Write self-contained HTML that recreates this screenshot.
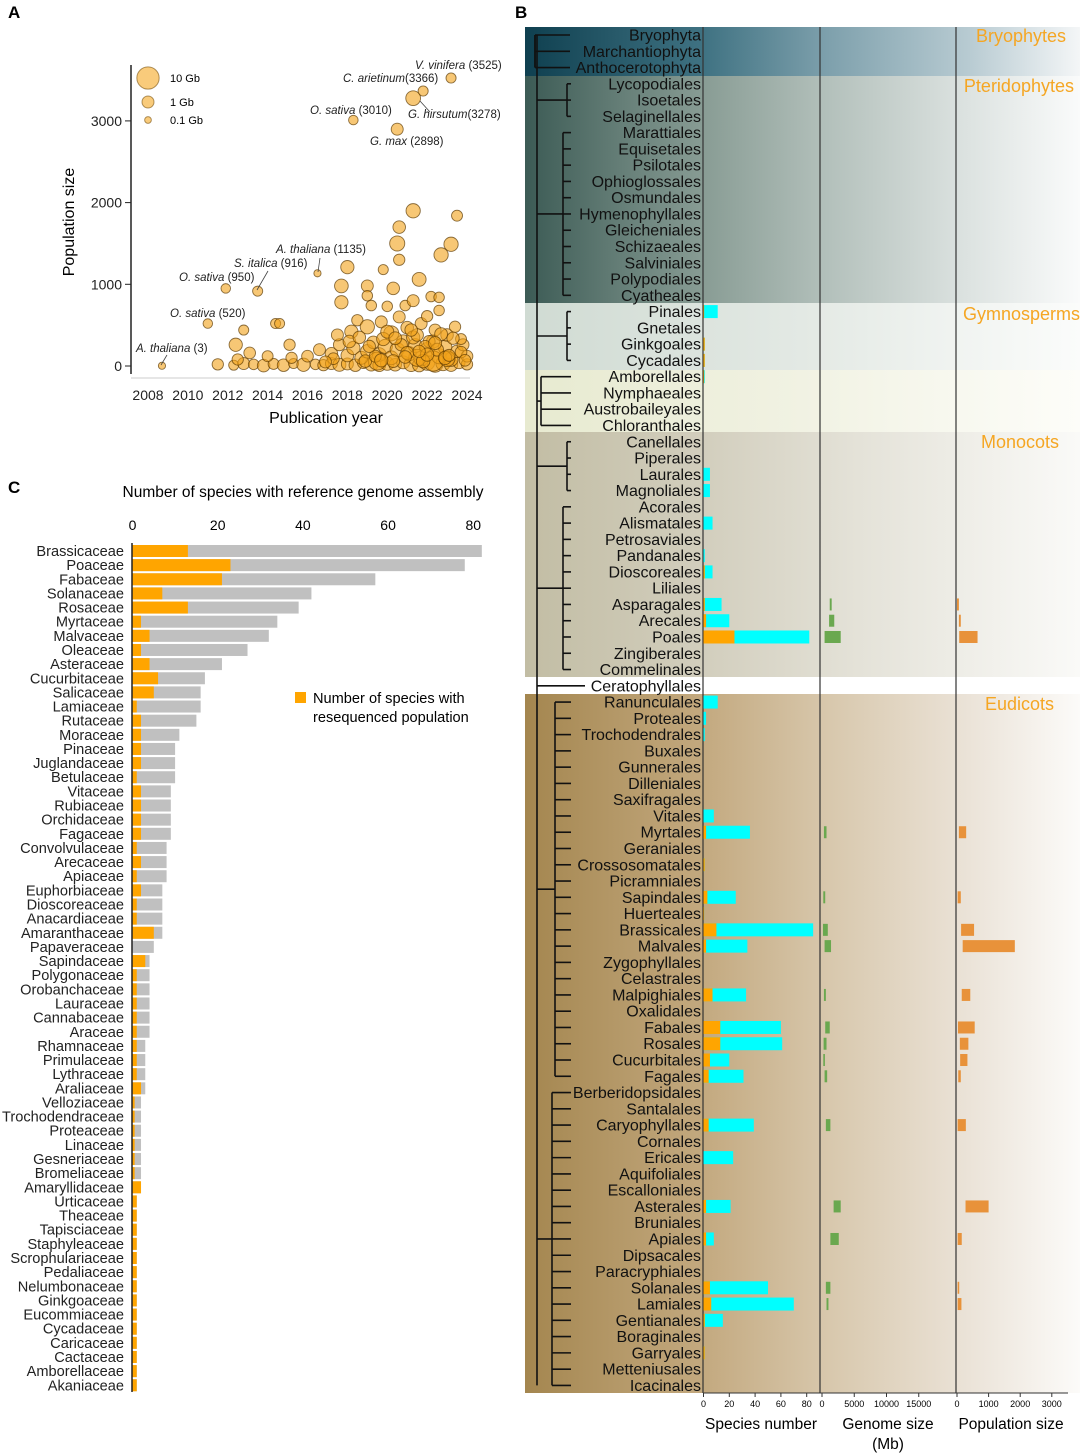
<!DOCTYPE html>
<html><head><meta charset="utf-8">
<style>
html,body{margin:0;padding:0;background:#fff}
svg{display:block;font-family:"Liberation Sans",Arial,sans-serif}
</style></head>
<body>
<svg id="fig" width="1080" height="1454" viewBox="0 0 1080 1454" xmlns="http://www.w3.org/2000/svg">
<defs>
<linearGradient id="gBryo" x1="0" x2="1"><stop offset="0" stop-color="#0f4050"/><stop offset="0.32" stop-color="#3f7282"/><stop offset="0.55" stop-color="#7fa1ad"/><stop offset="0.8" stop-color="#b8cbd2"/><stop offset="1" stop-color="#f4f6f7"/></linearGradient>
<linearGradient id="gPter" x1="0" x2="1"><stop offset="0" stop-color="#3c5b55"/><stop offset="0.32" stop-color="#889c94"/><stop offset="0.55" stop-color="#b4c1bc"/><stop offset="0.8" stop-color="#dde3e1"/><stop offset="1" stop-color="#fafbfb"/></linearGradient>
<linearGradient id="gGym" x1="0" x2="1"><stop offset="0" stop-color="#d0dbd3"/><stop offset="0.5" stop-color="#e3e9e4"/><stop offset="1" stop-color="#fbfcfb"/></linearGradient>
<linearGradient id="gAna" x1="0" x2="1"><stop offset="0" stop-color="#e7ead0"/><stop offset="0.5" stop-color="#f1f2e3"/><stop offset="1" stop-color="#fdfdf9"/></linearGradient>
<linearGradient id="gMono" x1="0" x2="1"><stop offset="0" stop-color="#c2bda4"/><stop offset="0.32" stop-color="#d2cebd"/><stop offset="0.6" stop-color="#e4e2d8"/><stop offset="1" stop-color="#fafaf8"/></linearGradient>
<linearGradient id="gEud" x1="0" x2="1"><stop offset="0" stop-color="#a4864f"/><stop offset="0.32" stop-color="#c3a97f"/><stop offset="0.55" stop-color="#d8c8ad"/><stop offset="0.8" stop-color="#ebe3d8"/><stop offset="1" stop-color="#fcfbf9"/></linearGradient>
</defs>
<g id="panelA"></g>
<g id="panelB"></g>
<g id="panelC"></g>
</svg>
<script>
const NS="http://www.w3.org/2000/svg";
function mk(p,tag,at,txt){const e=document.createElementNS(NS,tag);for(const k in at)e.setAttribute(k,at[k]);if(txt!==undefined)e.textContent=txt;p.appendChild(e);return e;}

// ===== Panel A data =====
const aYears=[2008.7,2011,2011.9,2013.5,2016.5,2018.3,2021.8,2021.3,2023.2,2020.5,
2021.3,2023.5,2020.5,2020.6,2023.2,2022.7,2018,2019.8,2020.6,2021.6,2017.7,2019,2020.3,2017.7,2019,2019.2,2012.8,2014.4,2014.6,2015.1,2012.4,
2011.5,2012.3,2012.8,2013.3,2013.8,2014.3,2014.8,2015.3,2015.8,2016.4,2016.8,2017.2,2017.6,2018,2018.4,2018.8,2019.2,2019.6,2020,2020.4,2020.8,2021.2,2021.6,2022,2022.4,2022.8,2023.2,2023.6,2024,
2012.5,2013.1,2014,2015.2,2016,2016.6,2017.2,2017.6,2018,2018.3,2018.7,2019,2019.3,2019.6,2019.9,2020.2,2020.5,2020.8,2021.1,2021.4,2021.7,2022,2022.3,2022.6,2022.9,2023.2,2023.5,2023.8,2024,
2017.5,2018.2,2018.5,2019,2019.7,2020.2,2020.6,2021,2021.3,2021.7,2022,2022.4,2022.6,2023,2023.4,2023.7,2020,2020.9,2021.3,2022.2,2022.6,2022.3,2021.5,2019.5,2023.0,
2018.9,2019.4,2019.8,2020.3,2020.7,2021.0,2021.5,2021.8,2022.1,2022.5,2022.9,2023.3,2023.7,2020.0,2020.9,2021.9,2022.7,2019.1,2018.1,2017.3,2016.9,2021.2,2022.0,2023.9,2020.4,2021.6,2022.4,2023.1,2019.7,2018.6];
const aPops=[3,520,950,916,1135,3010,3366,3278,3525,2898,
1900,1840,1500,1700,1490,1360,1210,1180,1300,1060,980,980,950,780,860,740,440,520,520,260,260,
20,10,30,20,5,25,10,30,15,20,10,30,15,25,10,40,20,10,30,15,45,20,10,40,20,30,15,40,20,
80,160,120,100,120,200,150,260,130,220,100,180,290,140,240,100,200,300,150,250,90,200,300,120,230,80,180,260,120,
380,420,560,480,540,400,600,470,350,520,610,440,680,380,480,330,730,740,800,850,840,60,100,60,90,
60,120,330,60,260,160,380,60,300,200,100,340,170,420,110,240,390,240,300,90,50,440,140,70,340,180,280,130,70,350];
const aSizes=[0.13,0.4,0.4,0.5,0.13,0.4,0.5,2.3,0.5,1,
2,0.7,2.5,1.2,2,2,1.5,0.5,0.8,1.8,1.7,1,1.2,1.5,0.6,0.6,0.5,0.5,0.5,0.8,1.5,
0.8,0.5,1,0.6,1.2,0.7,1.2,0.5,1.5,0.6,0.8,1,1.4,1,1.2,0.9,1.5,1.3,1.6,1.2,1.4,2,1.5,2.5,3,2,1.5,1,0.8,
0.8,0.9,0.7,0.8,0.9,1,1.2,1,1.3,1.5,1.4,1.6,1.2,1.7,2,1.8,2,1.5,2,1.8,2.2,2,1.5,2.5,1.7,1.8,1.2,1,0.9,
1,1.5,0.8,2,1,2.5,1,1.2,1.5,1,0.8,1,0.6,1.2,0.8,0.7,0.6,0.6,1,0.6,0.6,8,4,5,3,
1.2,1,1.5,1.3,1.1,1.4,1.2,1.6,1,1.3,1.5,1.1,0.9,1.4,1.2,1,1.3,1.1,1.2,0.9,1,1.2,1.5,0.9,1.3,1.1,1.4,1,1.5,1.2];
const aYearTicks=[2008,2010,2012,2014,2016,2018,2020,2022,2024];
const aPopTicks=[0,1000,2000,3000];
const aAnnot=[["A. thaliana"," (3)",136,352],["O. sativa"," (520)",170,317],["O. sativa"," (950)",179,281],["S. italica"," (916)",234,267],["A. thaliana"," (1135)",276,253],["O. sativa"," (3010)",310,114],["C. arietinum","(3366)",343,82],["G. hirsutum","(3278)",408,118],["V. vinifera"," (3525)",415,69],["G. max"," (2898)",370,145]];

(function(){
const g=document.getElementById('panelA');
const xA=y=>148+(y-2008)*(467-148)/16, yA=p=>366-p*0.0817, rA=s=>6*Math.pow(s,0.25);
let t=mk(g,'text',{x:8,y:18,'font-size':17,'font-weight':'bold'},'A');

for(let i=0;i<aYears.length;i++){
 const c=mk(g,'circle',{cx:xA(aYears[i]),cy:yA(aPops[i]),r:rA(aSizes[i]),fill:'rgba(242,162,25,0.6)',stroke:'rgba(90,55,0,0.7)','stroke-width':0.9});
 
 
}
let ax=mk(g,'line',{x1:131,y1:65,x2:131,y2:374,stroke:'#222','stroke-width':1.5});

ax=mk(g,'line',{x1:131,y1:378,x2:470,y2:378,stroke:'#ccc','stroke-width':1});

aPopTicks.forEach(p=>{mk(g,'line',{x1:125,x2:131,y1:yA(p),y2:yA(p),stroke:'#222'});
 const l=mk(g,'text',{x:122,y:yA(p)+5,'font-size':14,'text-anchor':'end',fill:'#222'},p);
 });
aYearTicks.forEach(y=>{const l=mk(g,'text',{x:xA(y),y:400,'font-size':14,'text-anchor':'middle',fill:'#222'},y);
 });
t=mk(g,'text',{x:326,y:423,'font-size':16,'text-anchor':'middle'},'Publication year');

t=mk(g,'text',{x:74,y:222,'font-size':16,'text-anchor':'middle',transform:'rotate(-90 74 222)'},'Population size');

[[10,78,'10 Gb'],[1,102,'1 Gb'],[0.1,120,'0.1 Gb']].forEach(d=>{
 const c=mk(g,'circle',{cx:148,cy:d[1],r:rA(d[0])+(d[0]==10?0.5:0),fill:'rgba(245,168,35,0.6)',stroke:'rgba(110,70,0,0.55)'});
 
 const l=mk(g,'text',{x:170,y:d[1]+4,'font-size':11},d[2]);
 });
aAnnot.forEach(a=>{const l=mk(g,'text',{x:a[2],y:a[3],'font-size':11.5,fill:'#222'});
 mk(l,'tspan',{'font-style':'italic'},a[0]);mk(l,'tspan',{},a[1]);
 });
[[167,355,161,365],[268,271,257,290],[320,258,318,272],[420,101,430,112]].forEach(d=>mk(g,'line',{x1:d[0],y1:d[1],x2:d[2],y2:d[3],stroke:'#444','stroke-width':0.8}));
})();

// ===== Panel B data =====
const bOrders=["Bryophyta","Marchantiophyta","Anthocerotophyta","Lycopodiales","Isoetales","Selaginellales","Marattiales","Equisetales","Psilotales","Ophioglossales","Osmundales","Hymenophyllales","Gleicheniales","Schizaeales","Salviniales","Polypodiales","Cyatheales","Pinales","Gnetales","Ginkgoales","Cycadales","Amborellales","Nymphaeales","Austrobaileyales","Chloranthales","Canellales","Piperales","Laurales","Magnoliales","Acorales","Alismatales","Petrosaviales","Pandanales","Dioscoreales","Liliales","Asparagales","Arecales","Poales","Zingiberales","Commelinales","Ceratophyllales","Ranunculales","Proteales","Trochodendrales","Buxales","Gunnerales","Dilleniales","Saxifragales","Vitales","Myrtales","Geraniales","Crossosomatales","Picramniales","Sapindales","Huerteales","Brassicales","Malvales","Zygophyllales","Celastrales","Malpighiales","Oxalidales","Fabales","Rosales","Cucurbitales","Fagales","Berberidopsidales","Santalales","Caryophyllales","Cornales","Ericales","Aquifoliales","Escalloniales","Asterales","Bruniales","Apiales","Dipsacales","Paracryphiales","Solanales","Lamiales","Gentianales","Boraginales","Garryales","Metteniusales","Icacinales"];
const bSpecies={Pinales:11,Ginkgoales:1,Cycadales:1,Amborellales:1,Laurales:5,Magnoliales:5,Alismatales:7,Pandanales:1,Dioscoreales:7,Asparagales:14,Arecales:20,Poales:82,Ranunculales:11,Proteales:2,Trochodendrales:1,Vitales:8,Myrtales:36,Crossosomatales:1,Sapindales:25,Huerteales:0.5,Brassicales:85,Malvales:34,Malpighiales:33,Fabales:60,Rosales:61,Cucurbitales:20,Fagales:31,Caryophyllales:39,Ericales:23,Asterales:21,Apiales:8,Solanales:50,Lamiales:70,Gentianales:15,Garryales:1};
const bReseq={Pinales:0.5,Ginkgoales:1,Cycadales:1,Amborellales:0.5,Dioscoreales:1,Asparagales:1,Arecales:2,Poales:24,Myrtales:2,Crossosomatales:1,Sapindales:3,Huerteales:0.5,Brassicales:10,Malvales:2,Malpighiales:7,Fabales:13,Rosales:13,Cucurbitales:5,Fagales:4,Caryophyllales:4,Asterales:2,Apiales:2,Solanales:5,Lamiales:6,Gentianales:1,Garryales:1};
const bGenomeLo={Asparagales:1200,Arecales:1100,Poales:400,Myrtales:300,Sapindales:200,Brassicales:150,Malvales:400,Malpighiales:300,Fabales:500,Rosales:250,Cucurbitales:200,Fagales:400,Caryophyllales:600,Asterales:1800,Apiales:1300,Solanales:600,Lamiales:700};
const bGenomeHi={Asparagales:1500,Arecales:1900,Poales:2900,Myrtales:700,Sapindales:500,Brassicales:900,Malvales:1400,Malpighiales:600,Fabales:1200,Rosales:700,Cucurbitales:450,Fagales:800,Caryophyllales:1300,Asterales:2900,Apiales:2600,Solanales:1300,Lamiales:1000};
const bPopLo={Asparagales:0,Arecales:60,Poales:70,Myrtales:60,Sapindales:20,Brassicales:130,Malvales:180,Malpighiales:150,Fabales:30,Rosales:90,Cucurbitales:100,Fagales:40,Caryophyllales:20,Asterales:270,Apiales:20,Solanales:20,Lamiales:20};
const bPopHi={Asparagales:60,Arecales:120,Poales:650,Myrtales:290,Sapindales:120,Brassicales:540,Malvales:1830,Malpighiales:420,Fabales:560,Rosales:360,Cucurbitales:330,Fagales:120,Caryophyllales:280,Asterales:1000,Apiales:150,Solanales:70,Lamiales:140};
const bSpTicks=[0,20,40,60,80];
const bGsTicks=[0,5000,10000,15000];
const bPsTicks=[0,1000,2000,3000];

(function(){
const g=document.getElementById('panelB');
const rowY=i=>35+i*16.27;
const xS=v=>703.5+v*1.29, xG=v=>822+v*0.00645, xP=v=>957+v*0.0316;
let t=mk(g,'text',{x:515,y:18,'font-size':17,'font-weight':'bold'},'B');

const bands=[[27,76,'gBryo','bryophytes-band'],[76,303,'gPter','pteridophytes-band'],[303,370,'gGym','gymnosperms-band'],[370,432,'gAna','basal-angiosperms-band'],[432,677,'gMono','monocots-band'],[694,1393,'gEud','eudicots-band']];
bands.forEach(b=>{const r=mk(g,'rect',{x:525,y:b[0],width:555,height:b[1]-b[0],fill:'url(#'+b[2]+')'});
 });
const T={stroke:'#111','stroke-width':1.6,fill:'none'};
const hl=(x1,x2,y)=>mk(g,'line',Object.assign({x1:x1,x2:x2,y1:y,y2:y},T));
const vl=(x,y1,y2)=>mk(g,'line',Object.assign({x1:x,x2:x,y1:y1,y2:y2},T));
const clades=[[0,2,535,570],[3,5,567,571],[6,16,563,571],[17,20,567,571],[21,24,541,571],[25,28,567,571],[29,39,563,571],[41,64,555,571],[65,83,552,571]];
vl(537,rowY(0),rowY(83));vl(535,rowY(0),rowY(2));
clades.forEach(c=>{vl(c[2],rowY(c[0]),rowY(c[1]));hl(537,c[2],(rowY(c[0])+rowY(c[1]))/2);
 for(let i=c[0];i<=c[1];i++)hl(c[2],c[3],rowY(i));});
hl(537,585,rowY(40));
[703,820,956].forEach((x,i)=>{const l=mk(g,'line',{x1:x,x2:x,y1:27,y2:1393,stroke:'#333','stroke-width':1.2});
 });
bOrders.forEach((o,i)=>{const y=rowY(i);
 const l=mk(g,'text',{x:701,y:y+5.5,'font-size':16,'text-anchor':'end',fill:'#111'},o);
 
 if(bSpecies[o]!==undefined){const r=mk(g,'rect',{x:xS(0),y:y-6.5,width:xS(bSpecies[o])-xS(0),height:13,fill:'#00ffff'});
  }
 if(bReseq[o]!==undefined){const r=mk(g,'rect',{x:xS(0),y:y-6.5,width:xS(bReseq[o])-xS(0),height:13,fill:'#ffa500'});
  }
 if(bGenomeLo[o]!==undefined){const r=mk(g,'rect',{x:xG(bGenomeLo[o]),y:y-6,width:Math.max(1.5,xG(bGenomeHi[o])-xG(bGenomeLo[o])),height:12,fill:'#6aa84f'});
  }
 if(bPopLo[o]!==undefined){const r=mk(g,'rect',{x:xP(bPopLo[o]),y:y-6,width:Math.max(1.5,xP(bPopHi[o])-xP(bPopLo[o])),height:12,fill:'#e8923a'});
  }
});
[["Bryophytes",1066,42],["Pteridophytes",1074,92],["Gymnosperms",1080,320],["Monocots",1059,448],["Eudicots",1054,710]].forEach(d=>{
 const l=mk(g,'text',{x:d[1],y:d[2],'font-size':18,'text-anchor':'end',fill:'#f5a623'},d[0]);
 });
mk(g,'line',{x1:703,x2:1068,y1:1393,y2:1393,stroke:'#333'});
bSpTicks.forEach(v=>{mk(g,'line',{x1:xS(v),x2:xS(v),y1:1393,y2:1397,stroke:'#333'});
 const l=mk(g,'text',{x:xS(v),y:1407,'font-size':9,'text-anchor':'middle'},v);});
bGsTicks.forEach(v=>{mk(g,'line',{x1:xG(v),x2:xG(v),y1:1393,y2:1397,stroke:'#333'});
 const l=mk(g,'text',{x:xG(v),y:1407,'font-size':9,'text-anchor':'middle'},v);});
bPsTicks.forEach(v=>{mk(g,'line',{x1:xP(v),x2:xP(v),y1:1393,y2:1397,stroke:'#333'});
 const l=mk(g,'text',{x:xP(v),y:1407,'font-size':9,'text-anchor':'middle'},v);});
[["Species number",761,1429],["Genome size",888,1429],["(Mb)",888,1449],["Population size",1011,1429]].forEach(d=>{
 const l=mk(g,'text',{x:d[1],y:d[2],'font-size':15.5,'text-anchor':'middle'},d[0]);
 });
})();

// ===== Panel C data =====
const cFamilies=["Brassicaceae","Poaceae","Fabaceae","Solanaceae","Rosaceae","Myrtaceae","Malvaceae","Oleaceae","Asteraceae","Cucurbitaceae","Salicaceae","Lamiaceae","Rutaceae","Moraceae","Pinaceae","Juglandaceae","Betulaceae","Vitaceae","Rubiaceae","Orchidaceae","Fagaceae","Convolvulaceae","Arecaceae","Apiaceae","Euphorbiaceae","Dioscoreaceae","Anacardiaceae","Amaranthaceae","Papaveraceae","Sapindaceae","Polygonaceae","Orobanchaceae","Lauraceae","Cannabaceae","Araceae","Rhamnaceae","Primulaceae","Lythraceae","Araliaceae","Velloziaceae","Trochodendraceae","Proteaceae","Linaceae","Gesneriaceae","Bromeliaceae","Amaryllidaceae","Urticaceae","Theaceae","Tapisciaceae","Staphyleaceae","Scrophulariaceae","Pedaliaceae","Nelumbonaceae","Ginkgoaceae","Eucommiaceae","Cycadaceae","Caricaceae","Cactaceae","Amborellaceae","Akaniaceae"];
const cAssembly=[82,78,57,42,39,34,32,27,21,17,16,16,15,11,10,10,10,9,9,9,9,8,8,8,7,7,7,7,5,4,4,4,4,4,4,3,3,3,3,2,2,2,2,2,2,2,1,1,1,1,1,1,1,1,1,1,1,1,1,1];
const cReseq=[13,23,21,7,13,2,4,2,4,6,5,1,2,2,2,2,1,2,2,2,2,1,2,1,2,1,1,5,0,3,1,1,1,1,1,1,1,1,2,0.5,0.5,0.5,0.5,0.5,0.5,2,1,1,1,1,1,1,1,1,1,1,1,1,1,1];
const cTicks=[0,20,40,60,80];

(function(){
const g=document.getElementById('panelC');
const xC=v=>132.5+v*4.26, yC=i=>551+i*14.14;
let t=mk(g,'text',{x:8,y:493,'font-size':17,'font-weight':'bold'},'C');

t=mk(g,'text',{x:303,y:497,'font-size':15.5,'text-anchor':'middle'},'Number of species with reference genome assembly');

cTicks.forEach(v=>{const l=mk(g,'text',{x:xC(v),y:530,'font-size':14,'text-anchor':'middle'},v);
 });
cFamilies.forEach((f,i)=>{const y=yC(i);
 const l=mk(g,'text',{x:124,y:y+5,'font-size':14.6,'text-anchor':'end',fill:'#222'},f);
 
 let r=mk(g,'rect',{x:xC(0),y:y-6,width:xC(cAssembly[i])-xC(0),height:12,fill:'#c0c0c0'});
 
 r=mk(g,'rect',{x:xC(0),y:y-6,width:xC(cReseq[i])-xC(0),height:12,fill:'#ffa500'});
 });
const ax=mk(g,'line',{x1:132,x2:132,y1:543,y2:1392,stroke:'#222','stroke-width':1.5});

const lg=mk(g,'rect',{x:295,y:692,width:11,height:11,fill:'#ffa500'});

t=mk(g,'text',{x:313,y:703,'font-size':14.6},'Number of species with');

t=mk(g,'text',{x:313,y:722,'font-size':14.6},'resequenced population');

})();
</script>
</body></html>
